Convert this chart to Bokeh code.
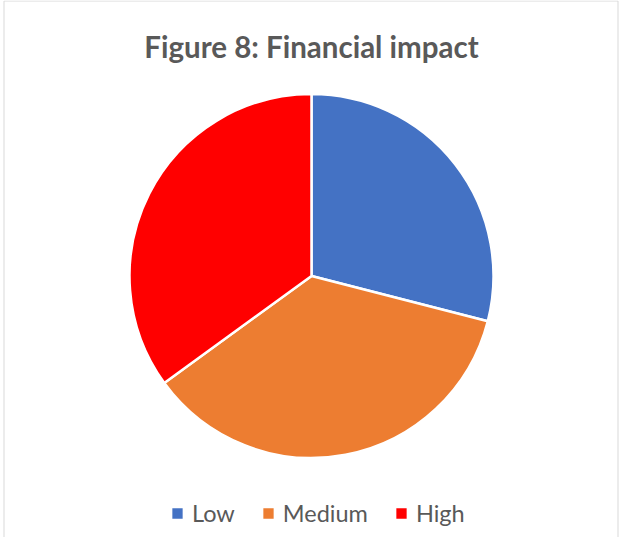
import numpy as np
from bokeh.plotting import figure
from bokeh.models import ColumnDataSource, Range1d, Label, Legend, LegendItem
from bokeh.embed import file_html
from bokeh.resources import INLINE

# ---- data ----
categories = ["Low", "Medium", "High"]
values = [29, 36, 35]
colors = ["#4472C4", "#ED7D31", "#FF0000"]
title_text = "Figure 8: Financial impact"

# ---- layout (pixels) ----
W, H = 621, 537
CX, CY, R = 311, 261.5, 182

vals = np.array(values, dtype=float)
frac = vals / vals.sum()
cum = np.cumsum(frac)
prev = np.concatenate([[0.0], cum[:-1]])
start = np.pi / 2 - 2 * np.pi * prev
end = np.pi / 2 - 2 * np.pi * cum

src = ColumnDataSource(dict(cat=categories, val=values, start=start, end=end, color=colors))

p = figure(width=W, height=H, output_backend="svg", toolbar_location=None,
           x_range=Range1d(0, W), y_range=Range1d(0, H), min_border=0,
           background_fill_color="white", border_fill_color="white")
p.axis.visible = False
p.grid.visible = False
p.outline_line_color = None

# chart border (left, top, right)
p.line(x=[3.5, 3.5, 617.5, 617.5], y=[-10, 536.5, 536.5, -10],
       line_color="#d9d9d9", line_width=1)

wr = p.wedge(x=CX, y=CY, radius=R, start_angle="start", end_angle="end",
             direction="clock", fill_color="color", line_color="white",
             line_width=2.5, source=src)

items = [LegendItem(label=c, renderers=[wr], index=i) for i, c in enumerate(categories)]

legend = Legend(items=items, orientation="horizontal", location=(169, 10),
                glyph_width=16, glyph_height=16, label_standoff=7, spacing=25,
                padding=0, margin=0, border_line_color=None,
                background_fill_alpha=0, label_text_font="Lato",
                label_text_font_size="23.5px", label_text_color="#595959")
p.add_layout(legend, "center")

p.add_layout(Label(x=311, y=490.7, text=title_text, text_align="center",
                   text_baseline="alphabetic", text_font="Lato",
                   text_font_style="bold", text_font_size="29.5px",
                   text_color="#595959"))

open("out.html", "w").write(file_html(p, INLINE))
